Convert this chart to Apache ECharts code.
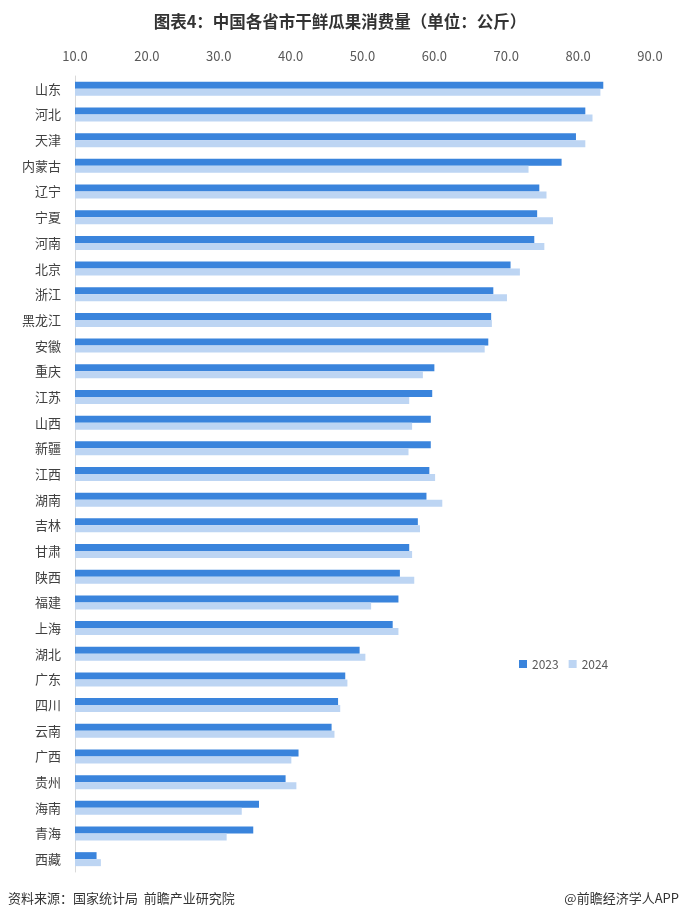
<!DOCTYPE html>
<html><head><meta charset="utf-8">
<script src="https://cdn.jsdelivr.net/npm/echarts@6/dist/echarts.min.js"></script>
<style>html,body{margin:0;padding:0;background:#fff}#c{width:680px;height:921px}</style>
</head><body><div id="c"></div>
<script>
const categories = ["山东","河北","天津","内蒙古","辽宁","宁夏","河南","北京","浙江","黑龙江","安徽","重庆","江苏","山西","新疆","江西","湖南","吉林","甘肃","陕西","福建","上海","湖北","广东","四川","云南","广西","贵州","海南","青海","西藏"];
const values2023 = [83.5,81.0,79.7,77.7,74.6,74.3,73.9,70.6,68.2,67.9,67.5,60.0,59.7,59.5,59.5,59.3,58.9,57.7,56.5,55.2,55.0,54.2,49.6,47.6,46.6,45.7,41.1,39.3,35.6,34.8,13.0];
const values2024 = [83.1,82.0,81.0,73.1,75.6,76.5,75.3,71.9,70.1,68.0,67.0,58.4,56.5,56.9,56.4,60.1,61.1,58.0,56.9,57.2,51.2,55.0,50.4,47.9,46.9,46.1,40.1,40.8,33.2,31.1,13.6];
const seriesNames = ["2023","2024"];
const xTicks = {min:10, max:90, interval:10};

const chart = echarts.init(document.getElementById('c'));
const font = '"Noto Sans CJK SC", "Noto Sans", sans-serif';
chart.setOption({
  backgroundColor:'#fff',
  animation:false,
  title:{text:'图表4：中国各省市干鲜瓜果消费量（单位：公斤）',left:'center',top:8,
    textStyle:{fontSize:16.5,fontWeight:'bold',color:'#333',fontFamily:font}},
  legend:{data:seriesNames,left:514,top:653,itemWidth:8,itemHeight:8,itemGap:10,icon:'rect',
    textStyle:{fontSize:12,color:'#595959',fontFamily:font}},
  grid:{left:75,right:30,top:76,bottom:49,containLabel:false},
  xAxis:{type:'value',position:'top',min:xTicks.min,max:xTicks.max,interval:xTicks.interval,
    axisLine:{show:false},axisTick:{show:false},splitLine:{show:false},
    axisLabel:{formatter:v=>v.toFixed(1),color:'#595959',fontSize:13,margin:13,fontFamily:font}},
  yAxis:{type:'category',data:categories,inverse:true,
    axisLine:{show:true,lineStyle:{color:'#d9d9d9',width:1}},axisTick:{show:false},
    axisLabel:{color:'#404040',fontSize:13,margin:14,fontFamily:font}},
  series:[
    {name:seriesNames[0],type:'bar',data:values2023,itemStyle:{color:'#3a84dc'},barWidth:7,barGap:'0%'},
    {name:seriesNames[1],type:'bar',data:values2024,itemStyle:{color:'#bdd5f3'},barWidth:7,barGap:'0%'}
  ],
  graphic:[
    {type:'text',left:8,top:892,style:{text:'资料来源：国家统计局  前瞻产业研究院',fontSize:13,fill:'#333',fontFamily:font}},
    {type:'text',right:1,top:892,style:{text:'@前瞻经济学人APP',fontSize:13,fill:'#333',fontFamily:font}}
  ]
});
</script></body></html>
